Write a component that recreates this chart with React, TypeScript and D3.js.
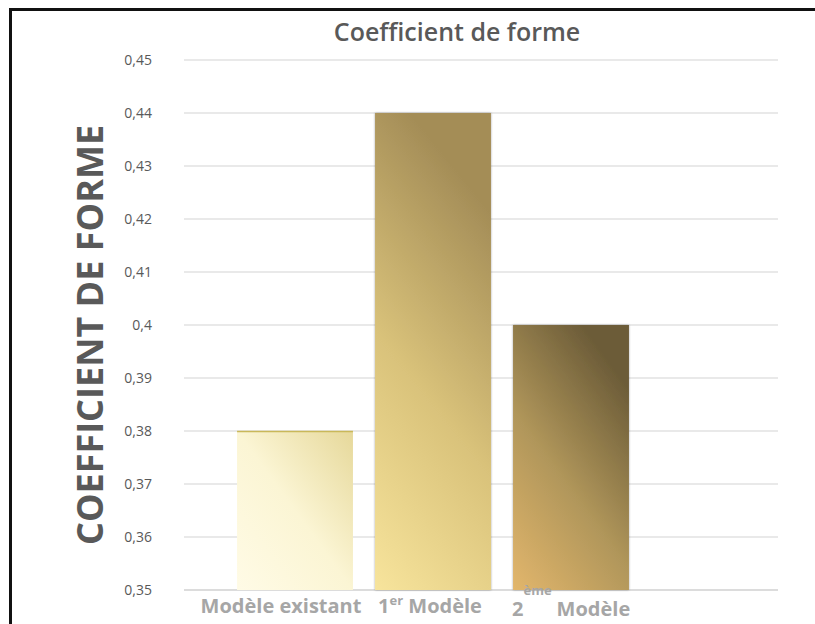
import * as d3 from "d3";

const CATEGORIES = ["Modèle existant", "1er Modèle", "2ème Modèle"];
const VALUES = [0.38, 0.44, 0.4];
const Y_TICKS = [0.35, 0.36, 0.37, 0.38, 0.39, 0.4, 0.41, 0.42, 0.43, 0.44, 0.45];

const W = 815;
const H = 624;

// gradient per bar, running from bottom-left to top-right
const GRADS = [
  { x1: "0", y1: "1", x2: "1", y2: "0", stops: ["#fffbe6", "#fbf5d4", "#e6d89a"] },
  { x1: "0", y1: "1", x2: "0.3", y2: "0", stops: ["#f7e49c", "#d9c27a", "#a48d57"] },
  { x1: "0", y1: "1", x2: "0.6", y2: "0", stops: ["#e2b66c", "#b0965a", "#6c5c38"] },
];

export default function App() {
  const y = d3.scaleLinear().domain([0.35, 0.45]).range([590, 60]);
  const x = d3
    .scaleBand<string>()
    .domain(CATEGORIES)
    .range([226, 640])
    .paddingInner(0.16)
    .paddingOuter(0.08);
  const gridX1 = 184;
  const gridX2 = 778;
  const fmt = (d: number) => String(+d.toFixed(2)).replace(".", ",");
  const grey = "#595959";
  const labelGrey = "#a6a6a6";
  const cx = (c: string) => (x(c) ?? 0) + x.bandwidth() / 2;

  return (
    <svg
      width={W}
      height={H}
      style={{ position: "absolute", left: 0, top: 0, background: "#fff" }}
      fontFamily="'Open Sans', 'Noto Sans', sans-serif"
    >
      <defs>
        {GRADS.map((g, i) => (
          <linearGradient key={i} id={`bar${i}`} x1={g.x1} y1={g.y1} x2={g.x2} y2={g.y2}>
            {g.stops.map((c, j) => (
              <stop key={j} offset={j / (g.stops.length - 1)} stopColor={c} />
            ))}
          </linearGradient>
        ))}
        <filter id="shadow" x="-10%" y="-10%" width="120%" height="120%">
          <feDropShadow dx="0" dy="0" stdDeviation="1.2" floodColor="#000" floodOpacity="0.35" />
        </filter>
      </defs>

      {/* frame */}
      <path d={`M10.5,${H} V9.5 H${W}`} fill="none" stroke="#111" strokeWidth={3} />

      <text x={457} y={41} textAnchor="middle" fontSize={25} fontWeight={600} fill={grey}>
        Coefficient de forme
      </text>

      {/* grid + y ticks */}
      {Y_TICKS.map((t) => (
        <g key={t}>
          <line
            x1={gridX1}
            x2={gridX2}
            y1={y(t)}
            y2={y(t)}
            stroke={t === 0.35 ? "#d0d0d0" : "#e2e2e2"}
            strokeWidth={1.5}
          />
          <text x={152} y={y(t) + 5} textAnchor="end" fontSize={14} fill={grey}>
            {fmt(t)}
          </text>
        </g>
      ))}

      <text
        transform={`translate(103,335) rotate(-90)`}
        textAnchor="middle"
        fontSize={36}
        fontWeight={700}
        fill={grey}
      >
        COEFFICIENT DE FORME
      </text>

      {/* bars */}
      {CATEGORIES.map((c, i) => (
        <rect
          key={c}
          x={x(c)}
          y={y(VALUES[i])}
          width={x.bandwidth()}
          height={y(0.35) - y(VALUES[i])}
          fill={`url(#bar${i})`}
          filter={i === 0 ? undefined : "url(#shadow)"}
        />
      ))}
      <line
        x1={x(CATEGORIES[0])}
        x2={(x(CATEGORIES[0]) ?? 0) + x.bandwidth()}
        y1={y(VALUES[0]) + 0.5}
        y2={y(VALUES[0]) + 0.5}
        stroke="#c9b85a"
        strokeWidth={1.5}
      />

      {/* x labels */}
      <g fontSize={20} fontWeight={700} fill={labelGrey}>
        <text x={cx(CATEGORIES[0]) - 14} y={613} textAnchor="middle">
          Modèle existant
        </text>
        <text x={cx(CATEGORIES[1]) - 3} y={613} textAnchor="middle">
          1<tspan fontSize={13} dy={-8}>er</tspan>
          <tspan dy={8}> Modèle</tspan>
        </text>
        <text x={(x(CATEGORIES[2]) ?? 0) - 1} y={616}>
          2<tspan fontSize={13} dy={-21}>ème</tspan>
          <tspan dy={21} dx={5}>Modèle</tspan>
        </text>
      </g>
    </svg>
  );
}
